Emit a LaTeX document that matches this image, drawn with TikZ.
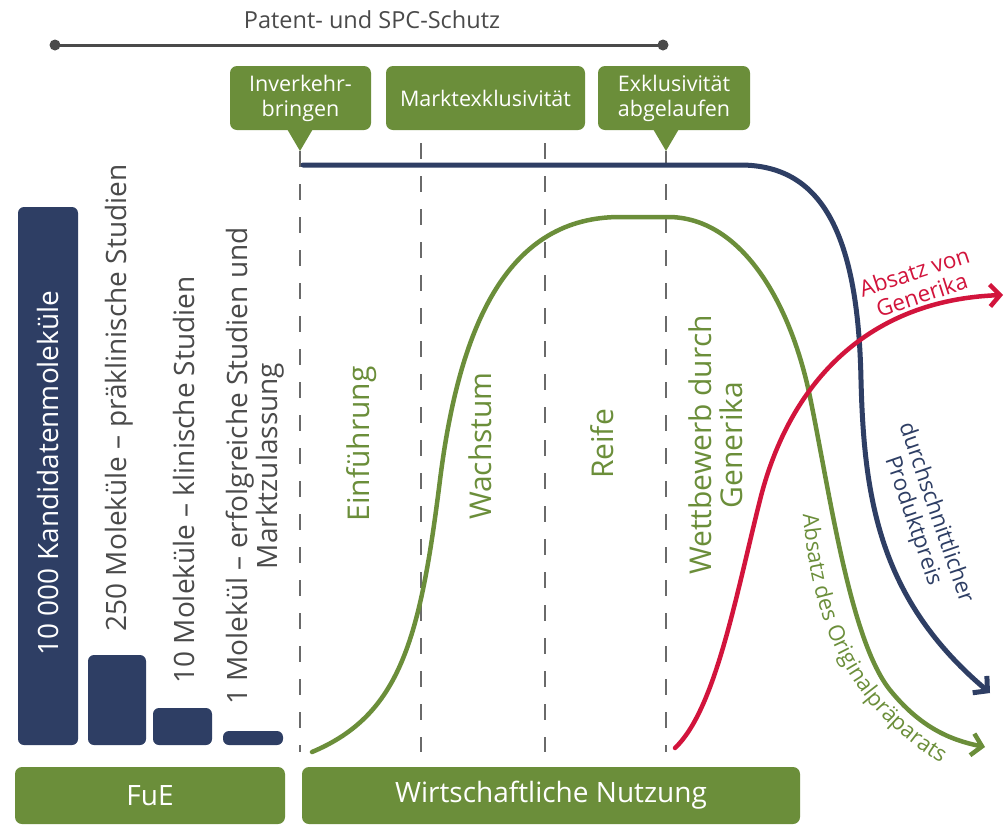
\documentclass[tikz,border=0pt]{standalone}
\usepackage{fontspec}
\setmainfont{Open Sans}
\usetikzlibrary{arrows.meta,decorations.text}
\definecolor{gc}{HTML}{6B8E3A}
\definecolor{bc}{HTML}{2E3E64}
\definecolor{rc}{HTML}{D2143C}
\definecolor{tc}{HTML}{4A4A4A}
\definecolor{dc}{HTML}{6A6A6A}
\begin{document}
\begin{tikzpicture}[x=1pt,y=-1pt,
  gbox/.style={fill=gc, rounded corners=7pt, text=white, inner sep=0pt, align=center,
    font=\fontsize{21.5}{25}\selectfont},
  bigbox/.style={gbox, font=\fontsize{28}{31}\selectfont, minimum height=57pt},
  barbox/.style={fill=bc, rounded corners=6pt, inner sep=0pt},
  vlab/.style={rotate=90, text=tc, font=\fontsize{28}{30}\selectfont, align=center, inner sep=0pt},
  phase/.style={rotate=90, text=gc, font=\fontsize{30}{31}\selectfont, align=center, inner sep=0pt},
  dashline/.style={draw=dc, line width=2.5pt, dash pattern=on 16pt off 17pt},
  curvelab/.style={font=\fontsize{22.5}{24}\selectfont, align=center, inner sep=0pt},
  tipc/.style={-{Straight Barb[length=10pt,width=22pt]}, line cap=round}
]
\fill[white] (0,0) rectangle (1005,828);
\useasboundingbox (0,0) rectangle (1005,828);

% patent protection line
\coordinate (pl) at (55,45);
\coordinate (pr) at (663,45);
\draw[tc, line width=3pt] (pl) -- (pr);
\fill[tc] (pl) circle (5.5pt) (pr) circle (5.5pt);
\node[text=tc, font=\fontsize{23.5}{26}\selectfont, inner sep=0pt] (patent) at (372,20) {Patent- und SPC-Schutz};

% callouts
\node[gbox, minimum width=141pt, minimum height=64pt] (inv) at (300.5,98) {Inverkehr-\\bringen};
\node[gbox, minimum width=199pt, minimum height=64pt] (mex) at (485.5,98) {Marktexklusivität};
\node[gbox, minimum width=152pt, minimum height=64pt] (exk) at (674,98) {Exklusivität\\abgelaufen};
\coordinate (invtip) at (300,151);
\coordinate (exktip) at (666,151);
\coordinate (invb) at (inv.south -| invtip);
\coordinate (exkb) at (exk.south -| exktip);
\fill[gc] ([xshift=-14pt,yshift=3pt]invb) -- (invtip) -- ([xshift=14pt,yshift=3pt]invb) -- cycle;
\fill[gc] ([xshift=-14pt,yshift=3pt]exkb) -- (exktip) -- ([xshift=14pt,yshift=3pt]exkb) -- cycle;

% dashed phase separators
\coordinate (d1b) at (300,752);
\coordinate (d2t) at (421,143); \coordinate (d2b) at (421,752);
\coordinate (d3t) at (545,143); \coordinate (d3b) at (545,752);
\coordinate (d4b) at (666,752);
\draw[dashline] (invtip) -- (d1b);
\draw[dashline] (d2t) -- (d2b);
\draw[dashline] (d3t) -- (d3b);
\draw[dashline] (exktip) -- (d4b);

% bars
\node[barbox, minimum width=60pt, minimum height=538pt] (bar1) at (48,476) {};
\node[barbox, minimum width=58pt, minimum height=90pt] (bar2) at (117,700) {};
\node[barbox, minimum width=59pt, minimum height=37pt] (bar3) at (182.5,726.5) {};
\node[barbox, minimum width=60pt, minimum height=14pt] (bar4) at (253,738) {};

\node[vlab, text=white] (t1) at (48,473) {10 000 Kandidatenmoleküle};
\node[vlab] (t2) at (119,398) {250 Moleküle – präklinische Studien};
\node[vlab] (t3) at (184,480) {10 Moleküle – klinische Studien};
\node[vlab] (t4) at (255,466) {1 Molekül – erfolgreiche Studien und\\Marktzulassung};

% phase labels
\node[phase] (p1) at (362,444) {Einführung};
\node[phase] (p2) at (480,446) {Wachstum};
\node[phase] (p3) at (602,444) {Reife};
\node[phase] (p4) at (716,445) {Wettbewerb durch\\Generika};

% curves
\coordinate (bstart) at (303,165);
\coordinate (bend) at (990,693);
\draw[bc, line width=5pt, tipc] (bstart) -- (740,165)
  .. controls (820,165) and (858,230) .. (861,380)
  .. controls (864,500) and (880,600) .. (bend);

\coordinate (gstart) at (312,752);
\coordinate (gend) at (985,747);
\draw[gc, line width=4.5pt, tipc] (gstart)
  .. controls (400,715) and (420,640) .. (440,480)
  .. controls (460,320) and (510,217) .. (620,217)
  -- (668,217)
  .. controls (740,217) and (790,300) .. (810,397)
  .. controls (830,494) and (850,640) .. (890,690)
  .. controls (920,727) and (950,740) .. (gend);

\coordinate (rstart) at (675,748);
\coordinate (rend) at (1003,295);
\draw[rc, line width=4.5pt, tipc] (rstart)
  .. controls (715,710) and (735,600) .. (760,500)
  .. controls (790,380) and (870,300) .. (rend);

% curve labels
\node[curvelab, text=rc, rotate=18] (lgen) at (918,283) {Absatz von\\Generika};
\node[curvelab, text=bc, rotate=-71] (lpreis) at (924,517) {durchschnittlicher\\Produktpreis};
\path[decorate, decoration={text along path, text align=center, text color=gc,
  text format delimiters={|}{|},
  text={|\fontsize{22}{24}\selectfont|Absatz des Originalpräparats}}]
  (801,484) .. controls (806,588) and (826,708) .. (968,778);

% bottom boxes
\node[bigbox, minimum width=270pt] (fue) at (150,795.5) {FuE};
\node[bigbox, minimum width=498pt] (wn) at (551,795.5) {Wirtschaftliche Nutzung};
\end{tikzpicture}
\end{document}
